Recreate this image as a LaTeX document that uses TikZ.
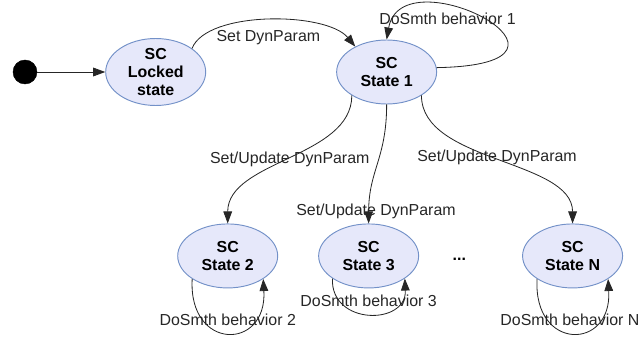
\documentclass[tikz,border=0pt]{standalone}
\usepackage{fontspec}
\setmainfont{Liberation Sans}
\definecolor{scfill}{HTML}{E6E8FA}
\definecolor{scline}{HTML}{7391C8}
\usetikzlibrary{positioning,arrows.meta,shapes.geometric}

\begin{document}
\begin{tikzpicture}[node distance=1cm,
    sc/.style={ellipse,draw=scline,fill=scfill,line width=0.8pt,
               minimum width=3cm,minimum height=1.92cm,inner sep=0pt,
               align=center,font=\fontsize{13.6}{15.4}\selectfont\bfseries},
    tr/.style={-{Triangle[length=3.6mm,width=2.6mm]},line width=0.7pt,black!85},
    lbl/.style={font=\fontsize{13.6}{15.4}\selectfont,inner sep=1pt}]
  \useasboundingbox (0,0) rectangle (19.14,-10.14);

  \node[circle,fill=black,draw=black,minimum size=0.72cm,inner sep=0pt] (init) at (0.75,-2.16) {};
  \node[sc,right=2.04cm of init] (lock) {SC\\Locked\\state};
  \node[sc,right=3.9cm of lock] (s1) {SC\\State 1};
  \node[sc,below=3.57cm of s1,xshift=-0.54cm] (s3) {SC\\State 3};
  \node[sc,left=1.2cm of s3] (s2) {SC\\State 2};
  \node[sc,right=3.09cm of s3] (sn) {SC\\State N};
  \node[font=\fontsize{13.6}{15.4}\selectfont\bfseries,inner sep=0pt,
        right=1cm of s3,yshift=-0.1cm] (dots) {...};

  \draw[tr] (init) -- (lock);
  \draw[tr] (lock.33) .. controls +(0.45,1.14) and +(-0.87,1.05) ..
    node[lbl,below=7pt,pos=0.5] {Set DynParam} (s1.141);
  \draw[tr] (s1.5) .. controls +(5.4,0.09) and +(0.45,2.6) ..
    node[lbl,pos=0.55,xshift=-0.8cm,yshift=-0.12cm] {DoSmth behavior 1} (s1.north);
  \draw[tr] (s1.214) .. controls +(0,-1.86) and +(0,1.89) ..
    node[lbl,pos=0.5] {Set/Update DynParam} (s2.north);
  \draw[tr] (s1.south) .. controls +(0,-1.62) and +(0,1.59) ..
    node[lbl,pos=0.92,xshift=0.21cm] {Set/Update DynParam} (s3.north);
  \draw[tr] (s1.326) .. controls +(0,-2.01) and +(0,1.92) ..
    node[lbl,pos=0.5,yshift=0.09cm] {Set/Update DynParam} (sn.north);

  \draw[tr] (s2.213) .. controls +(-0.12,-2.16) and +(0.12,-2.16) ..
    node[lbl,above=5pt] {DoSmth behavior 2} (s2.327);
  \draw[tr] (s3.212) .. controls +(-0.06,-1.41) and +(0.06,-1.41) ..
    node[lbl,above=5pt] {DoSmth behavior 3} (s3.328);
  \draw[tr] (sn.213) .. controls +(-0.12,-2.16) and +(0.12,-2.16) ..
    node[lbl,above=5pt,xshift=-0.08cm] {DoSmth behavior N} (sn.327);
\end{tikzpicture}
\end{document}
